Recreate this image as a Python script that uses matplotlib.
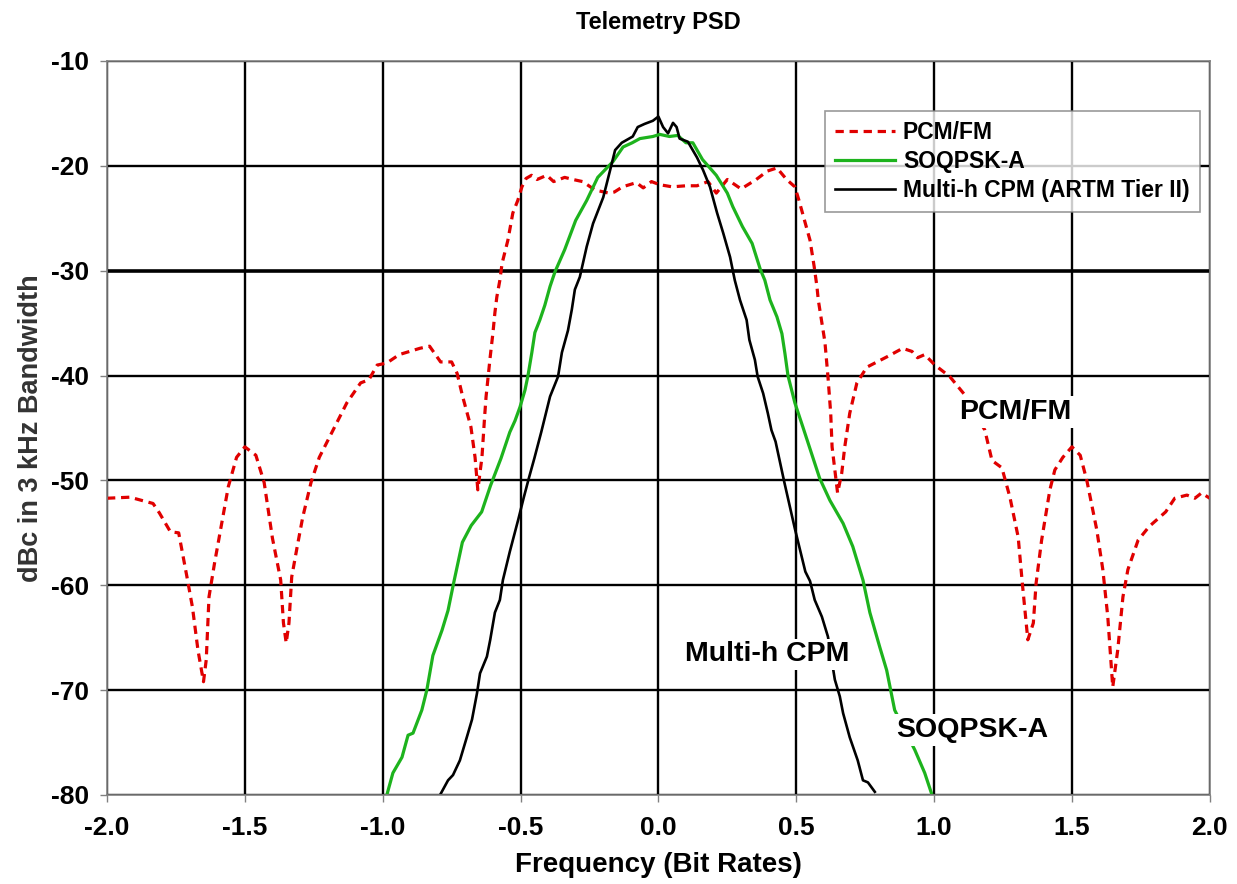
import matplotlib
matplotlib.use("Agg")
import matplotlib.pyplot as plt
from matplotlib.ticker import MultipleLocator

plt.rcParams["font.family"] = ["Liberation Sans", "DejaVu Sans"]
plt.rcParams["font.weight"] = "bold"

# PCM/FM spectrum
pcm_x = [-2.0, -1.917, -1.833, -1.81, -1.77, -1.74, -1.71, -1.69, -1.67, -1.65,
         -1.64, -1.63, -1.61, -1.58, -1.56, -1.53, -1.50, -1.46, -1.43, -1.40,
         -1.37, -1.36, -1.35, -1.34, -1.33, -1.31, -1.29, -1.26, -1.23, -1.18,
         -1.13, -1.08, -1.05, -1.02, -0.985, -0.94, -0.865, -0.83, -0.79, -0.75,
         -0.73, -0.71, -0.68, -0.665, -0.655, -0.64, -0.63, -0.625, -0.617, -0.61,
         -0.60, -0.593, -0.586, -0.575, -0.567, -0.546, -0.528, -0.51, -0.495, -0.48,
         -0.46, -0.44, -0.405, -0.38, -0.34, -0.31, -0.275, -0.23, -0.18, -0.16,
         -0.13, -0.08, -0.055, -0.025, 0.005, 0.05, 0.10, 0.14, 0.18, 0.21,
         0.25, 0.30, 0.355, 0.395, 0.43, 0.465, 0.495, 0.51, 0.53, 0.55,
         0.565, 0.575, 0.58, 0.604, 0.615, 0.625, 0.63, 0.65, 0.665, 0.676,
         0.694, 0.72, 0.756, 0.83, 0.886, 0.92, 0.94, 0.966, 1.003, 1.057,
         1.11, 1.184, 1.21, 1.246, 1.275, 1.305, 1.32, 1.34, 1.36, 1.37,
         1.39, 1.42, 1.438, 1.467, 1.50, 1.53, 1.554, 1.59, 1.612, 1.63,
         1.648, 1.666, 1.685, 1.703, 1.74, 1.78, 1.84, 1.873, 1.917, 1.946,
         1.97, 2.0]
pcm_y = [-51.7, -51.6, -52.2, -53.1, -54.9, -55.0, -59.2, -62.1, -66.2, -69.2,
         -67.1, -61.1, -57.9, -53.5, -50.6, -47.8, -46.8, -47.6, -50.2, -55.5,
         -59.5, -63.6, -65.5, -63.6, -59.2, -56.3, -53.5, -50.2, -47.8, -45.2,
         -42.6, -40.7, -40.4, -39.0, -38.8, -38.0, -37.4, -37.2, -38.7, -38.7,
         -39.8, -42.0, -44.9, -47.8, -50.9, -47.8, -43.8, -42.0, -40.0, -38.2,
         -35.9, -34.0, -32.5, -30.9, -29.3, -27.1, -24.5, -23.3, -22.0, -21.2,
         -20.9, -21.3, -20.9, -21.5, -21.1, -21.3, -21.5, -22.3, -22.6, -22.5,
         -22.0, -21.6, -22.1, -21.5, -21.8, -22.0, -21.9, -21.9, -21.5, -22.6,
         -21.3, -22.2, -21.3, -20.5, -20.2, -21.3, -22.0, -23.3, -25.2, -27.1,
         -29.6, -31.5, -32.8, -36.8, -40.1, -43.6, -46.8, -51.2, -49.3, -46.8,
         -43.6, -40.7, -39.2, -38.2, -37.4, -37.7, -38.3, -38.0, -39.0, -40.1,
         -41.8, -45.2, -48.1, -48.8, -51.6, -55.4, -59.8, -65.2, -63.6, -59.8,
         -55.7, -50.9, -49.0, -47.8, -46.8, -47.6, -50.0, -54.7, -58.5, -63.0,
         -69.7, -66.2, -61.1, -58.5, -55.7, -54.4, -53.0, -51.7, -51.4, -51.7,
         -51.2, -51.7]

# SOQPSK-A spectrum
soq_x = [-0.985, -0.963, -0.93, -0.908, -0.89, -0.858, -0.84, -0.818, -0.785, -0.763,
         -0.742, -0.711, -0.679, -0.641, -0.609, -0.571, -0.539, -0.52, -0.502, -0.484,
         -0.473, -0.459, -0.448, -0.43, -0.412, -0.393, -0.375, -0.34, -0.30, -0.26,
         -0.22, -0.165, -0.128, -0.095, -0.067, -0.02, 0.005, 0.04, 0.07, 0.10,
         0.125, 0.16, 0.21, 0.25, 0.27, 0.305, 0.34, 0.37, 0.386, 0.405,
         0.43, 0.448, 0.459, 0.47, 0.495, 0.524, 0.585, 0.622, 0.67, 0.705,
         0.742, 0.767, 0.803, 0.828, 0.857, 0.93, 0.966, 0.99]
soq_y = [-80.0, -77.9, -76.4, -74.3, -74.1, -71.9, -70.0, -66.7, -64.3, -62.4,
         -59.7, -55.9, -54.3, -53.0, -50.5, -47.9, -45.4, -44.3, -43.0, -41.4,
         -40.0, -37.8, -35.9, -34.7, -33.3, -31.5, -30.1, -28.0, -25.2, -23.3,
         -21.1, -19.6, -18.2, -17.8, -17.4, -17.2, -17.0, -17.2, -17.1, -17.8,
         -17.8, -19.4, -20.9, -22.6, -23.9, -25.8, -27.4, -29.9, -30.9, -32.8,
         -34.4, -36.0, -37.9, -40.0, -42.6, -44.9, -49.8, -51.9, -54.1, -56.3,
         -59.5, -62.6, -65.9, -68.1, -71.9, -75.7, -77.9, -79.8]

# Multi-h CPM (ARTM Tier II) spectrum
cpm_x = [-0.792, -0.763, -0.745, -0.72, -0.695, -0.676, -0.658, -0.647, -0.622, -0.61,
         -0.593, -0.575, -0.564, -0.539, -0.508, -0.489, -0.47, -0.45, -0.425, -0.393,
         -0.364, -0.35, -0.328, -0.314, -0.303, -0.285, -0.26, -0.237, -0.20, -0.175,
         -0.157, -0.133, -0.093, -0.075, -0.05, -0.02, 0.0, 0.017, 0.035, 0.053,
         0.066, 0.077, 0.107, 0.14, 0.162, 0.187, 0.213, 0.235, 0.26, 0.277,
         0.296, 0.32, 0.33, 0.35, 0.36, 0.38, 0.397, 0.41, 0.425, 0.457,
         0.495, 0.533, 0.55, 0.567, 0.593, 0.615, 0.64, 0.658, 0.67, 0.694,
         0.723, 0.742, 0.76, 0.785]
cpm_y = [-80.0, -78.6, -78.1, -76.7, -74.5, -72.8, -70.3, -68.4, -66.8, -65.2,
         -62.6, -61.4, -59.5, -56.8, -53.7, -51.7, -49.8, -47.9, -45.4, -42.0,
         -40.1, -37.8, -35.7, -33.7, -31.8, -30.6, -27.7, -25.5, -23.0, -20.4,
         -18.5, -17.8, -17.2, -16.3, -16.0, -15.7, -15.3, -16.3, -16.9, -15.9,
         -16.3, -17.4, -17.7, -19.2, -20.4, -22.0, -24.5, -26.4, -28.7, -30.9,
         -32.8, -34.7, -36.6, -38.5, -40.1, -41.7, -43.6, -45.2, -46.3, -50.2,
         -54.6, -58.7, -59.6, -61.4, -63.0, -64.9, -69.0, -70.6, -72.2, -74.5,
         -76.7, -78.6, -78.8, -79.7]

fig, ax = plt.subplots(figsize=(12.37, 8.84), dpi=100)
fig.subplots_adjust(left=0.0865, right=0.978, top=0.931, bottom=0.1007)

ax.plot(pcm_x, pcm_y, color="#E00000", lw=2.3, linestyle=(0, (2.6, 1.8)), label="PCM/FM")
ax.plot(soq_x, soq_y, color="#1DB31D", lw=2.3, label="SOQPSK-A")
ax.plot(cpm_x, cpm_y, color="black", lw=1.9, label="Multi-h CPM (ARTM Tier II)")

ax.set_xlim(-2, 2)
ax.set_ylim(-80, -10)
ax.xaxis.set_major_locator(MultipleLocator(0.5))
ax.yaxis.set_major_locator(MultipleLocator(10))
ax.xaxis.set_major_formatter(lambda v, p: f"{v:.1f}")
ax.yaxis.set_major_formatter(lambda v, p: f"{v:.0f}")

ax.set_axisbelow(True)
ax.grid(True, color="black", lw=1.7)
for y, gl in zip(ax.get_yticks(), ax.yaxis.get_gridlines()):
    if y == -30:
        gl.set_linewidth(2.6)

for s in ax.spines.values():
    s.set_color("#808080")
    s.set_linewidth(1.2)
ax.tick_params(direction="out", length=5, width=1, color="#808080",
               labelsize=19, pad=8)
ax.tick_params(axis="x", pad=10)

ax.set_title("Telemetry PSD", fontsize=17, fontweight="bold", pad=23)
ax.set_xlabel("Frequency (Bit Rates)", fontsize=20, fontweight="bold", labelpad=9)
ax.set_ylabel("dBc in 3 kHz Bandwidth", fontsize=19.5, fontweight="bold",
              color="#333333", labelpad=5)

box = dict(facecolor="white", edgecolor="none", pad=2)
ax.text(1.293, -43.5, "PCM/FM", fontsize=20.5, fontweight="bold", ha="center", va="center", bbox=box)
ax.text(0.393, -66.6, "Multi-h CPM", fontsize=20.5, fontweight="bold", ha="center", va="center", bbox=box)
ax.text(1.137, -73.8, "SOQPSK-A", fontsize=20.5, fontweight="bold", ha="center", va="center", bbox=box)

leg = ax.legend(loc="upper right", bbox_to_anchor=(0.991, 0.932), fontsize=16.5,
                frameon=True, fancybox=False, handlelength=2.6, labelspacing=0.25,
                borderpad=0.45, handletextpad=0.35, borderaxespad=0)
leg.get_frame().set_edgecolor("#808080")
leg.get_frame().set_linewidth(1.2)

plt.savefig("out.png", dpi=100)
